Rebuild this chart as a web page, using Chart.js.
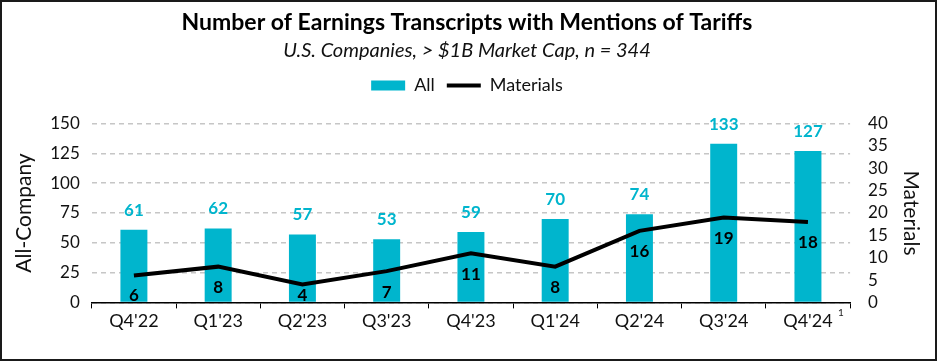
<!DOCTYPE html>
<html>
<head>
<meta charset="utf-8">
<script src="https://cdn.jsdelivr.net/npm/chart.js@4.4.1/dist/chart.umd.min.js"></script>
<style>
  html, body { margin: 0; padding: 0; background: #fff; }
  #wrap { width: 937px; height: 361px; position: relative; }
</style>
</head>
<body>
<div id="wrap"><canvas id="chart1"></canvas></div>
<script>
// données
const quarters = ["Q4'22", "Q1'23", "Q2'23", "Q3'23", "Q4'23", "Q1'24", "Q2'24", "Q3'24", "Q4'24"];
const allCompany = [61, 62, 57, 53, 59, 70, 74, 133, 127];
const materials = [6, 8, 4, 7, 11, 8, 16, 19, 18];

const cyan = "#00B5CD";
const fontName = "Lato";

Chart.defaults.font.family = fontName;
Chart.defaults.color = "#111";

// espace supplémentaire sous la légende
const legendSpace = {
    id: "legendSpace",
    beforeInit(chart) {
        const fit = chart.legend.fit;
        chart.legend.fit = function () {
            fit.bind(chart.legend)();
            this.height += 19;
        };
    }
};

// étiquettes de valeurs + cadre + note "1"
const labelsPlugin = {
    id: "valueLabels",
    afterDatasetsDraw(chart) {
        const c = chart.ctx;
        const area = chart.chartArea;
        c.save();
        c.textAlign = "center";
        c.font = "bold 17px " + fontName;

        const bars = chart.getDatasetMeta(1).data;
        c.fillStyle = cyan;
        c.textBaseline = "bottom";
        bars.forEach((b, i) => {
            c.fillText(allCompany[i], b.x, b.y - 11);
        });

        const pts = chart.getDatasetMeta(0).data;
        c.fillStyle = "#000";
        c.textBaseline = "middle";
        pts.forEach((p, i) => {
            c.fillText(materials[i], p.x, Math.min(p.y + 21, area.bottom - 7));
        });

        // petit "1" après Q4'24
        const xs = chart.scales.x;
        c.font = "10px " + fontName;
        c.fillStyle = "#222";
        c.textAlign = "left";
        c.fillText("1", xs.getPixelForValue(8) + 30, xs.top + 10);

        // cadre
        c.strokeStyle = "#1a1a1a";
        c.lineWidth = 2;
        c.strokeRect(1, 1, chart.width - 2, chart.height - 2);
        c.restore();
    }
};

const chart = new Chart(document.getElementById("chart1"), {
    data: {
        labels: quarters,
        datasets: [
            {
                type: "line",
                label: "Materials",
                data: materials,
                yAxisID: "y2",
                borderColor: "#000",
                backgroundColor: "#000",
                borderWidth: 4,
                pointRadius: 0,
                tension: 0,
                pointStyle: "line",
                order: 0
            },
            {
                type: "bar",
                label: "All",
                data: allCompany,
                yAxisID: "y",
                backgroundColor: cyan,
                barPercentage: 0.32,
                categoryPercentage: 1,
                pointStyle: "rect",
                order: 1
            }
        ]
    },
    options: {
        animation: false,
        responsive: true,
        maintainAspectRatio: false,
        layout: {
            padding: { left: 11, right: 14, top: 0, bottom: 27 }
        },
        plugins: {
            title: {
                display: true,
                text: "Number of Earnings Transcripts with Mentions of Tariffs",
                font: { size: 23, weight: "bold" },
                color: "#000",
                padding: { top: 9, bottom: 2 }
            },
            subtitle: {
                display: true,
                text: "U.S. Companies, > $1B Market Cap, n = 344",
                font: { size: 20, style: "italic" },
                color: "#111",
                padding: { bottom: 2 }
            },
            legend: {
                display: true,
                reverse: true,
                labels: {
                    usePointStyle: true,
                    pointStyleWidth: 34,
                    boxHeight: 10,
                    font: { size: 18 },
                    color: "#111",
                    padding: 12
                }
            },
            tooltip: { enabled: false }
        },
        scales: {
            x: {
                offset: true,
                grid: {
                    display: true,
                    offset: true,
                    drawOnChartArea: false,
                    drawTicks: true,
                    tickLength: 6,
                    color: "#000"
                },
                border: { display: true, color: "#000", width: 1.5 },
                ticks: { font: { size: 18 }, color: "#111", padding: 2 }
            },
            y: {
                position: "left",
                min: 0,
                max: 150,
                ticks: { stepSize: 25, font: { size: 17 }, color: "#111", padding: 12 },
                grid: { color: "#c6c6c6", lineWidth: 1.5, drawTicks: false },
                border: { display: false, dash: [5, 4] },
                title: { display: true, text: "All-Company", font: { size: 21 }, color: "#111", padding: 1 }
            },
            y2: {
                position: "right",
                min: 0,
                max: 40,
                ticks: { stepSize: 5, autoSkip: false, font: { size: 17 }, color: "#111", padding: 10 },
                grid: { display: false },
                border: { display: false },
                title: { display: true, text: "Materials", font: { size: 21 }, color: "#111", padding: 0 }
            }
        }
    },
    plugins: [legendSpace, labelsPlugin]
});
</script>
</body>
</html>
